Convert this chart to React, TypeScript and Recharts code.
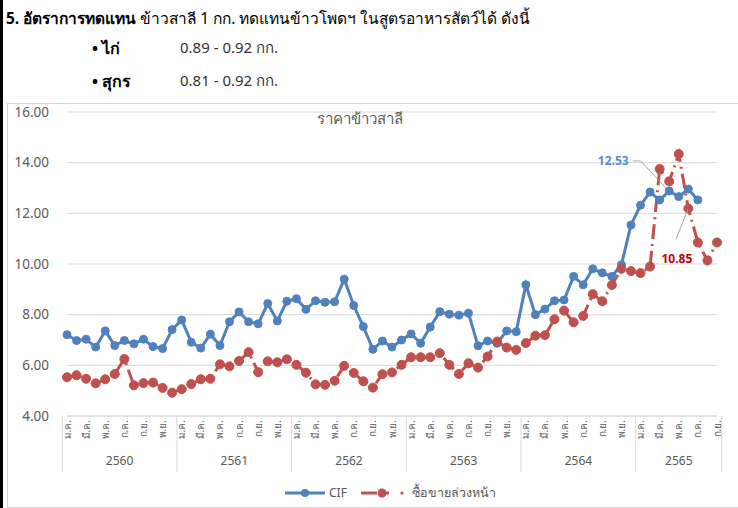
import React from "react";
import {
  LineChart,
  Line,
  XAxis,
  YAxis,
  CartesianGrid,
  Legend,
} from "recharts";

// ราคาข้าวสาลี, ม.ค. 2560 - ก.ย. 2565 (บาท/กก.)
const YEARS = ["2560", "2561", "2562", "2563", "2564", "2565"];
const MONTHS = ["ม.ค.", "ก.พ.", "มี.ค.", "เม.ย.", "พ.ค.", "มิ.ย.", "ก.ค.", "ส.ค.", "ก.ย.", "ต.ค.", "พ.ย.", "ธ.ค."];
const MONTHS_IN_YEAR = [12, 12, 12, 12, 12, 9];

const CIF = [
  7.21, 6.98, 7.03, 6.72, 7.36, 6.78, 6.98, 6.85, 7.03, 6.74, 6.66, 7.41,
  7.79, 6.91, 6.68, 7.23, 6.78, 7.72, 8.11, 7.72, 7.64, 8.44, 7.75, 8.53,
  8.63, 8.21, 8.55, 8.49, 8.51, 9.4, 8.36, 7.53, 6.63, 6.96, 6.72, 7.0,
  7.24, 6.87, 7.51, 8.12, 8.02, 7.98, 8.06, 6.77, 6.96, 6.87, 7.36, 7.33,
  9.18, 8.0, 8.22, 8.55, 8.58, 9.51, 9.18, 9.81, 9.65, 9.51, 9.97, 11.54,
  12.32, 12.84, 12.53, 12.88, 12.66, 12.96, 12.53, null, null,
];

const FUTURES = [
  5.53, 5.61, 5.47, 5.29, 5.45, 5.66, 6.25, 5.21, 5.3, 5.32, 5.11, 4.92,
  5.06, 5.26, 5.45, 5.47, 6.04, 5.96, 6.17, 6.52, 5.73, 6.16, 6.12, 6.24,
  6.02, 5.71, 5.25, 5.23, 5.39, 5.98, 5.7, 5.37, 5.12, 5.65, 5.72, 6.02,
  6.32, 6.32, 6.32, 6.48, 6.02, 5.66, 6.08, 5.91, 6.35, 6.94, 6.7, 6.61,
  6.88, 7.17, 7.19, 7.82, 8.16, 7.7, 7.95, 8.81, 8.53, 9.17, 9.81, 9.72,
  9.64, 9.9, 13.75, 13.26, 14.34, 12.19, 10.85, 10.14, 10.85,
];

const Y_TICKS = [4, 6, 8, 10, 12, 14, 16];

const CIF_LABEL_INDEX = 62;
const FUT_LABEL_INDEX = 66;

const BLUE = "#4F81BD";
const RED = "#C0504D";
const GRAY_TEXT = "#595959";
const GRID = "#d9d9d9";
const FONT = "Tahoma, 'Noto Sans', 'DejaVu Sans', sans-serif";

// chart geometry (chart box sits at page x=7, y=103)
const CHART_W = 731;
const CHART_H = 405;
const MARGIN = { top: 9, right: 21, left: 0, bottom: 0 };
const Y_AXIS_W = 60;
const X_AXIS_H = 62;
const LEGEND_H = 30;
const AXIS_Y = CHART_H - LEGEND_H - X_AXIS_H;
const N = CIF.length;
const BAND = 660 / N;

const data = CIF.map((v, i) => ({
  key: `${YEARS[Math.floor(i / 12)]}-${MONTHS[i % 12]}`,
  month: MONTHS[i % 12],
  cif: v,
  fut: FUTURES[i],
}));

function MonthTick(props: any) {
  const { x } = props;
  const idx: number = props.index ?? props.payload?.index ?? 0;
  const month = MONTHS[idx % 12];
  const yearIdx = Math.floor(idx / 12);
  const left = x - BAND / 2;
  return (
    <g>
      {idx % 2 === 0 && (
        <text
          transform={`translate(${x},${AXIS_Y + 4}) rotate(-90)`}
          textAnchor="end"
          dy="0.35em"
          fontSize={10}
          fill={GRAY_TEXT}
          fontFamily={FONT}
        >
          {month}
        </text>
      )}
      {idx % 12 === 0 && (
        <>
          <line x1={left} x2={left} y1={AXIS_Y} y2={AXIS_Y + 56} stroke={GRID} />
          <text
            x={left + (MONTHS_IN_YEAR[yearIdx] * BAND) / 2}
            y={AXIS_Y + 49}
            textAnchor="middle"
            fontSize={12}
            fill={GRAY_TEXT}
            fontFamily={FONT}
          >
            {YEARS[yearIdx]}
          </text>
        </>
      )}
      {idx === N - 1 && (
        <line x1={x + BAND / 2} x2={x + BAND / 2} y1={AXIS_Y} y2={AXIS_Y + 56} stroke={GRID} />
      )}
    </g>
  );
}

function ValueTick(props: any) {
  const { y, payload } = props;
  return (
    <text
      x={42}
      y={y}
      dy="0.35em"
      textAnchor="end"
      fontSize={13.5}
      fill={GRAY_TEXT}
      fontFamily={FONT}
    >
      {Number(payload.value).toFixed(2)}
    </text>
  );
}

function CifDot(props: any) {
  const { cx, cy, index, value } = props;
  if (cx == null || cy == null || value == null) return <g key={`c${index}`} />;
  return (
    <g key={`c${index}`}>
      <circle cx={cx} cy={cy} r={4} fill={BLUE} stroke={BLUE} />
      {index === CIF_LABEL_INDEX && (
        <g>
          <polyline
            points={`${cx - 27},${cy - 39} ${cx - 19},${cy - 39} ${cx + 7},${cy - 11}`}
            fill="none"
            stroke="#a6a6a6"
          />
          <text
            x={cx - 31}
            y={cy - 39}
            dy="0.35em"
            textAnchor="end"
            fontSize={12}
            fontWeight="bold"
            fill="#558ED5"
            fontFamily={FONT}
          >
            {CIF[index]?.toFixed(2)}
          </text>
        </g>
      )}
    </g>
  );
}

function FutDot(props: any) {
  const { cx, cy, index, value } = props;
  if (cx == null || cy == null || value == null) return <g key={`f${index}`} />;
  return (
    <g key={`f${index}`}>
      <circle cx={cx} cy={cy} r={4.5} fill={RED} stroke={RED} />
      {index === FUT_LABEL_INDEX && (
        <g>
          <line x1={cx - 22} y1={cy - 3} x2={cx - 10} y2={cy - 33} stroke="#a6a6a6" />
          <text
            x={cx - 21}
            y={cy + 16}
            dy="0.35em"
            textAnchor="middle"
            fontSize={12}
            fontWeight="bold"
            fill="#C00000"
            fontFamily={FONT}
          >
            {FUTURES[index].toFixed(2)}
          </text>
        </g>
      )}
    </g>
  );
}

function LegendBox() {
  // legend drawn in chart coords (page x - 7)
  return (
    <svg width={CHART_W} height={LEGEND_H} style={{ display: "block" }}>
      <line x1={278} x2={318} y1={15} y2={15} stroke={BLUE} strokeWidth={3} />
      <circle cx={298} cy={15} r={4} fill={BLUE} />
      <text x={322} y={15} dy="0.35em" fontSize={12} fill={GRAY_TEXT} fontFamily={FONT}>
        CIF
      </text>
      <line x1={354} x2={370} y1={15} y2={15} stroke={RED} strokeWidth={3} />
      <circle cx={375} cy={15} r={4.5} fill={RED} />
      <line x1={375} x2={382} y1={15} y2={15} stroke={RED} strokeWidth={3} />
      <circle cx={395} cy={15} r={1.6} fill={RED} />
      <text x={405} y={15} dy="0.35em" fontSize={12.5} fill={GRAY_TEXT} fontFamily={FONT}>
        ซื้อขายล่วงหน้า
      </text>
    </svg>
  );
}

export default function App() {
  return (
    <div
      style={{
        position: "fixed",
        left: 0,
        top: 0,
        width: 738,
        height: 508,
        background: "#fff",
        overflow: "hidden",
        fontFamily: FONT,
        color: "#000",
      }}
    >
      <div style={{ position: "absolute", left: 0, top: 0, width: 3, height: 508, background: "#000" }} />

      <div style={{ position: "absolute", left: 6, top: 6, fontSize: 15.5, whiteSpace: "nowrap" }}>
        <b>5. อัตราการทดแทน</b> ข้าวสาลี 1 กก. ทดแทนข้าวโพดฯ ในสูตรอาหารสัตว์ได้ ดังนี้
      </div>
      <div style={{ position: "absolute", left: 92, top: 36, fontSize: 16, fontWeight: "bold" }}>• ไก่</div>
      <div style={{ position: "absolute", left: 180, top: 36, fontSize: 15, color: "#333" }}>0.89 - 0.92 กก.</div>
      <div style={{ position: "absolute", left: 92, top: 69, fontSize: 16, fontWeight: "bold" }}>• สุกร</div>
      <div style={{ position: "absolute", left: 180, top: 69, fontSize: 15, color: "#333" }}>0.81 - 0.92 กก.</div>

      <div
        style={{
          position: "absolute",
          left: 7,
          top: 103,
          width: 740,
          height: 403,
          border: `1px solid ${GRID}`,
        }}
      />

      <div style={{ position: "absolute", left: 7, top: 103 }}>
        <LineChart width={CHART_W} height={CHART_H} data={data} margin={MARGIN}>
          <CartesianGrid vertical={false} stroke={GRID} strokeWidth={1} />
          <XAxis
            dataKey="key"
            interval={0}
            height={X_AXIS_H}
            tickLine={false}
            axisLine={{ stroke: GRID }}
            tick={<MonthTick />}
          />
          <YAxis
            domain={[4, 16]}
            ticks={Y_TICKS}
            width={Y_AXIS_W}
            axisLine={false}
            tickLine={false}
            tick={<ValueTick />}
          />
          <Legend
            verticalAlign="bottom"
            height={LEGEND_H}
            wrapperStyle={{ left: 0, width: CHART_W }}
            content={() => <LegendBox />}
          />
          <Line
            type="linear"
            dataKey="cif"
            name="CIF"
            stroke={BLUE}
            strokeWidth={3}
            dot={CifDot}
            activeDot={false}
            connectNulls={false}
            isAnimationActive={false}
          />
          <Line
            type="linear"
            dataKey="fut"
            name="ซื้อขายล่วงหน้า"
            stroke={RED}
            strokeWidth={3}
            strokeDasharray="15 5 2 5"
            dot={FutDot}
            activeDot={false}
            isAnimationActive={false}
          />
        </LineChart>
      </div>

      <div
        style={{
          position: "absolute",
          left: 0,
          width: 720,
          top: 107,
          textAlign: "center",
          fontSize: 15,
          color: GRAY_TEXT,
        }}
      >
        ราคาข้าวสาลี
      </div>
    </div>
  );
}
